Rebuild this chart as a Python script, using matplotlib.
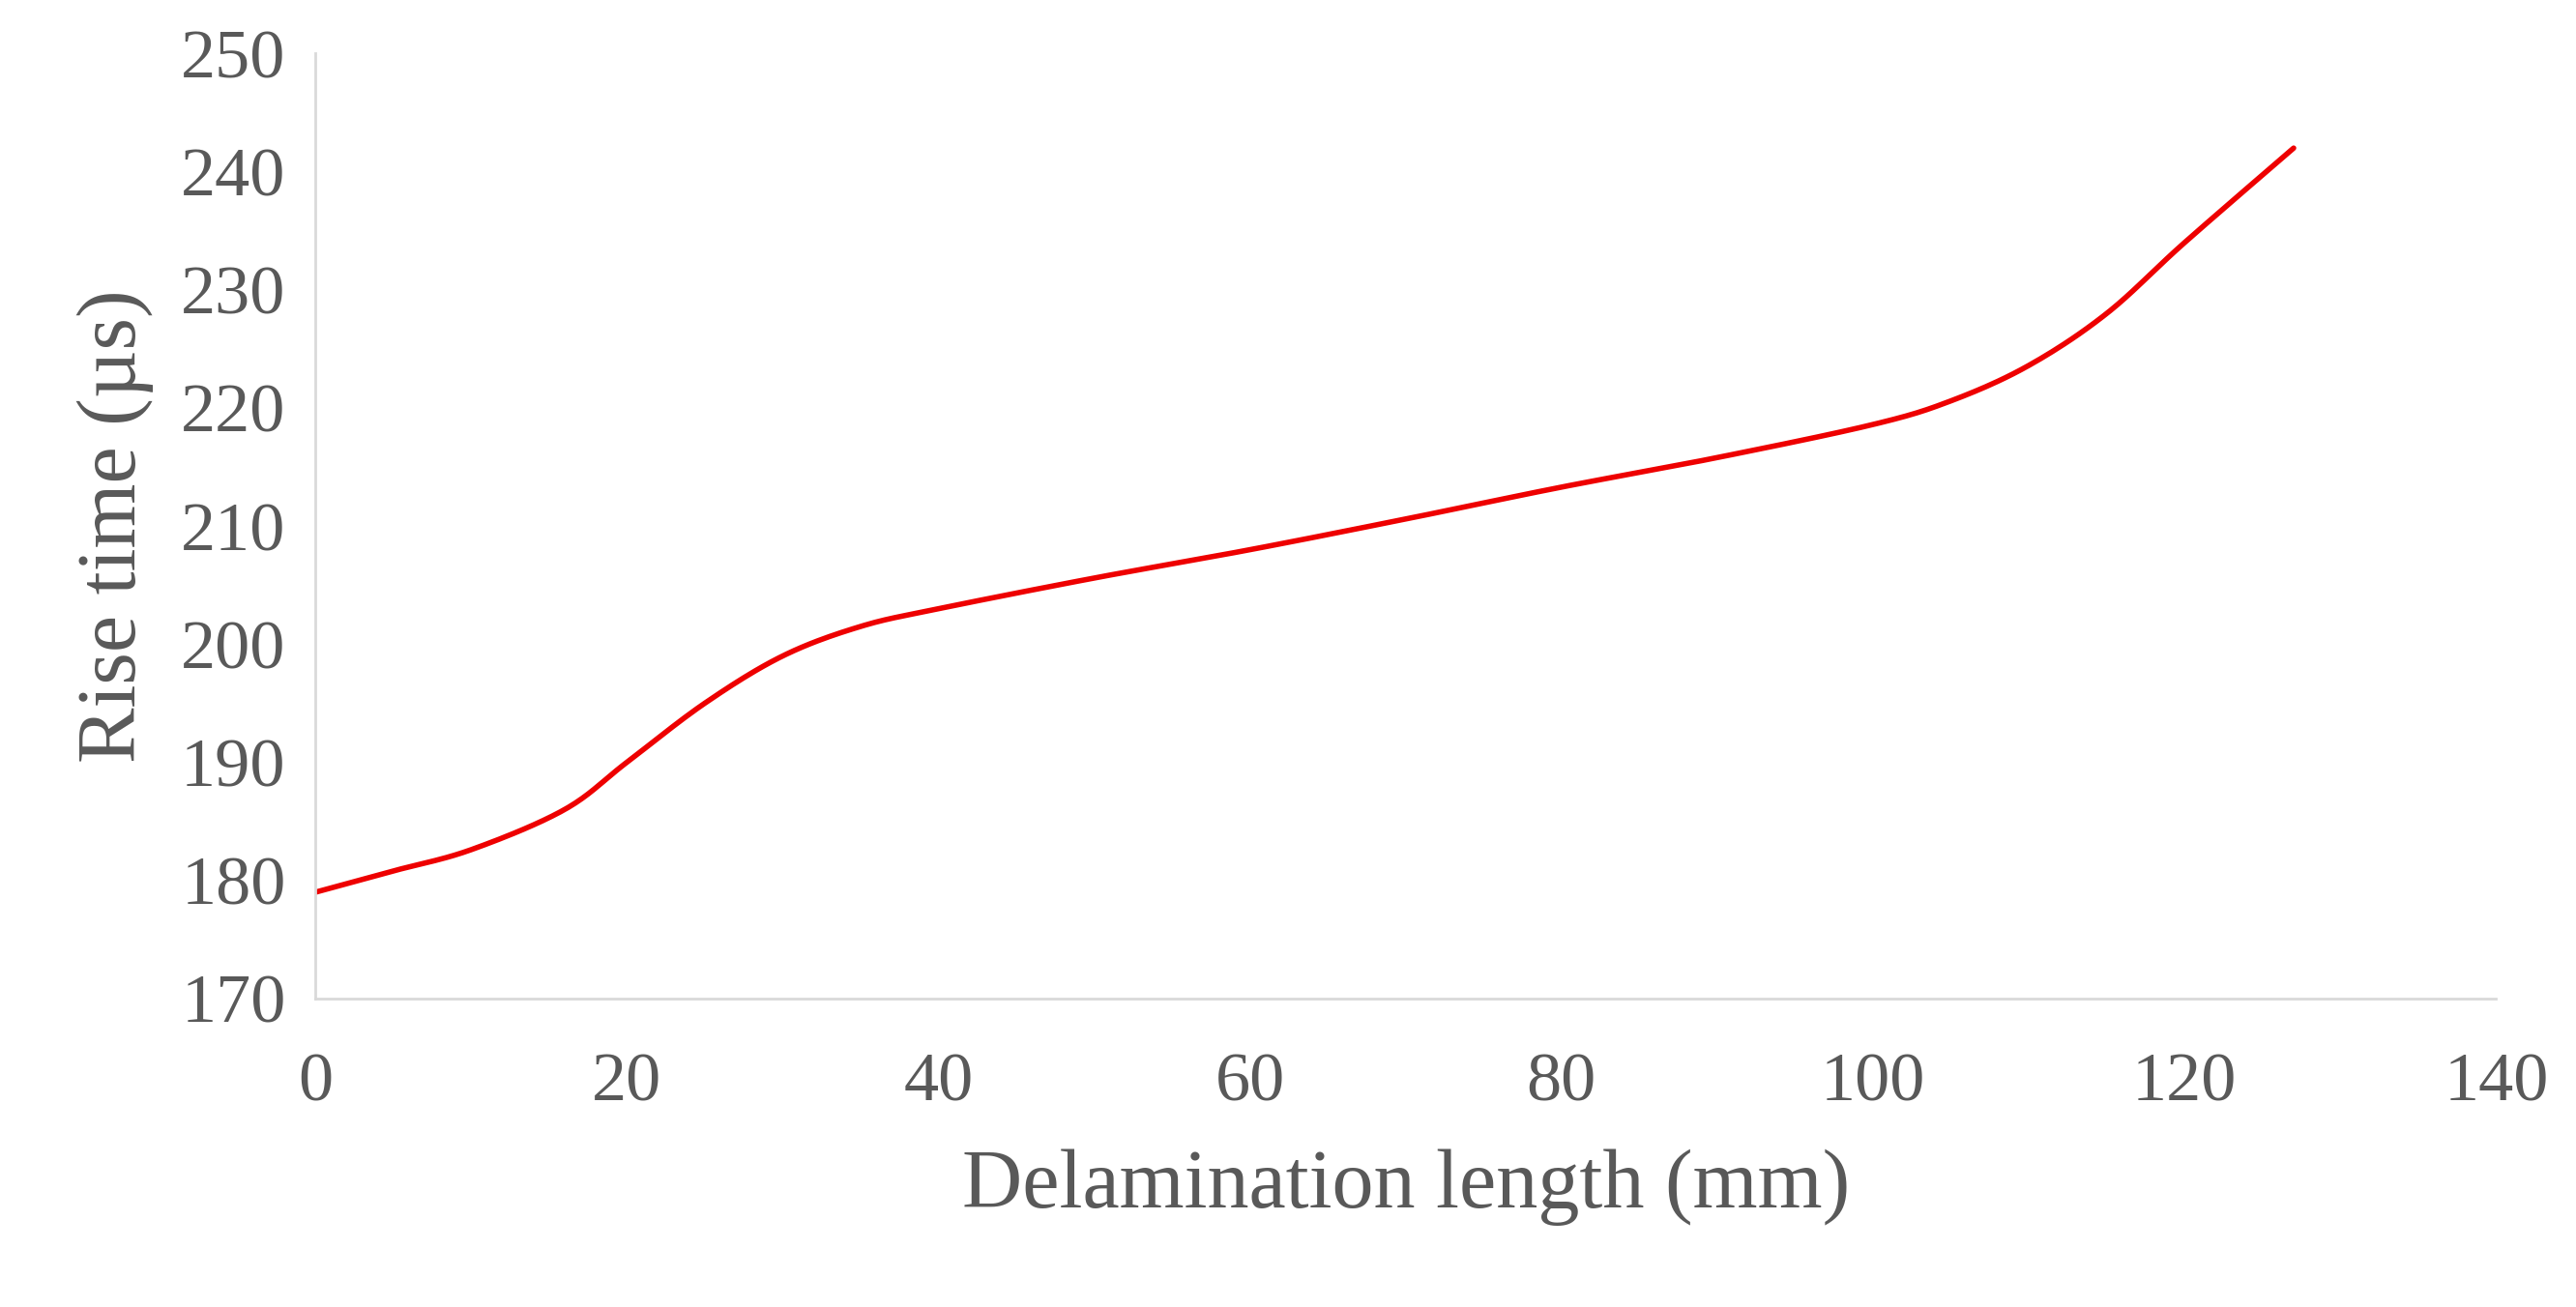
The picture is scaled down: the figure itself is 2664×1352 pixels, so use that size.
import numpy as np
import matplotlib
matplotlib.use("Agg")
import matplotlib.pyplot as plt

# values
length_mm = [0, 5, 10, 16, 20, 25, 30, 35, 40, 50, 60, 70, 80, 90, 100, 105, 110, 115, 120, 127]
rise_us = [179, 180.8, 182.6, 186, 190, 195, 199, 201.5, 203, 205.6, 208, 210.6, 213.3, 215.8, 218.6, 220.6, 223.6, 228, 234, 242]


def smooth(x, y, n=20):
    # Catmull-Rom smoothing like Excel's "smoothed line"
    p = np.column_stack([x, y]).astype(float)
    p = np.vstack([p[0], p, p[-1]])
    out = []
    t = np.linspace(0, 1, n, endpoint=False)[:, None]
    for i in range(1, len(p) - 2):
        p0, p1, p2, p3 = p[i - 1], p[i], p[i + 1], p[i + 2]
        seg = 0.5 * ((2 * p1) + (-p0 + p2) * t + (2 * p0 - 5 * p1 + 4 * p2 - p3) * t ** 2
                     + (-p0 + 3 * p1 - 3 * p2 + p3) * t ** 3)
        out.append(seg)
    out.append(p[-2][None, :])
    out = np.vstack(out)
    return out[:, 0], out[:, 1]


plt.rcParams['font.family'] = ['Liberation Serif', 'DejaVu Serif']
grey = '#595959'

fig = plt.figure(figsize=(26.64, 13.52), dpi=100)
ax = fig.add_axes([0.1224, 0.236, 0.8466, 0.723])
sx, sy = smooth(length_mm, rise_us)
ax.plot(sx, sy, color='#ee0000', lw=4, solid_capstyle='round')

ax.set_xlim(0, 140)
ax.set_ylim(170, 250)
ax.set_xticks(np.arange(0, 141, 20))
ax.set_yticks(np.arange(170, 251, 10))
ax.tick_params(length=0, labelsize=52, labelcolor=grey, pad=40)
ax.tick_params(axis='y', pad=22)
for s in ['top', 'right']:
    ax.spines[s].set_visible(False)
for s in ['left', 'bottom']:
    ax.spines[s].set_color('#d9d9d9')
    ax.spines[s].set_linewidth(2)

ax.set_xlabel('Delamination length (mm)', fontsize=62, color=grey, labelpad=25)
ax.set_ylabel('Rise time (µs)', fontsize=62, color=grey, labelpad=20)

fig.savefig('out.png', dpi=100, facecolor='white')
